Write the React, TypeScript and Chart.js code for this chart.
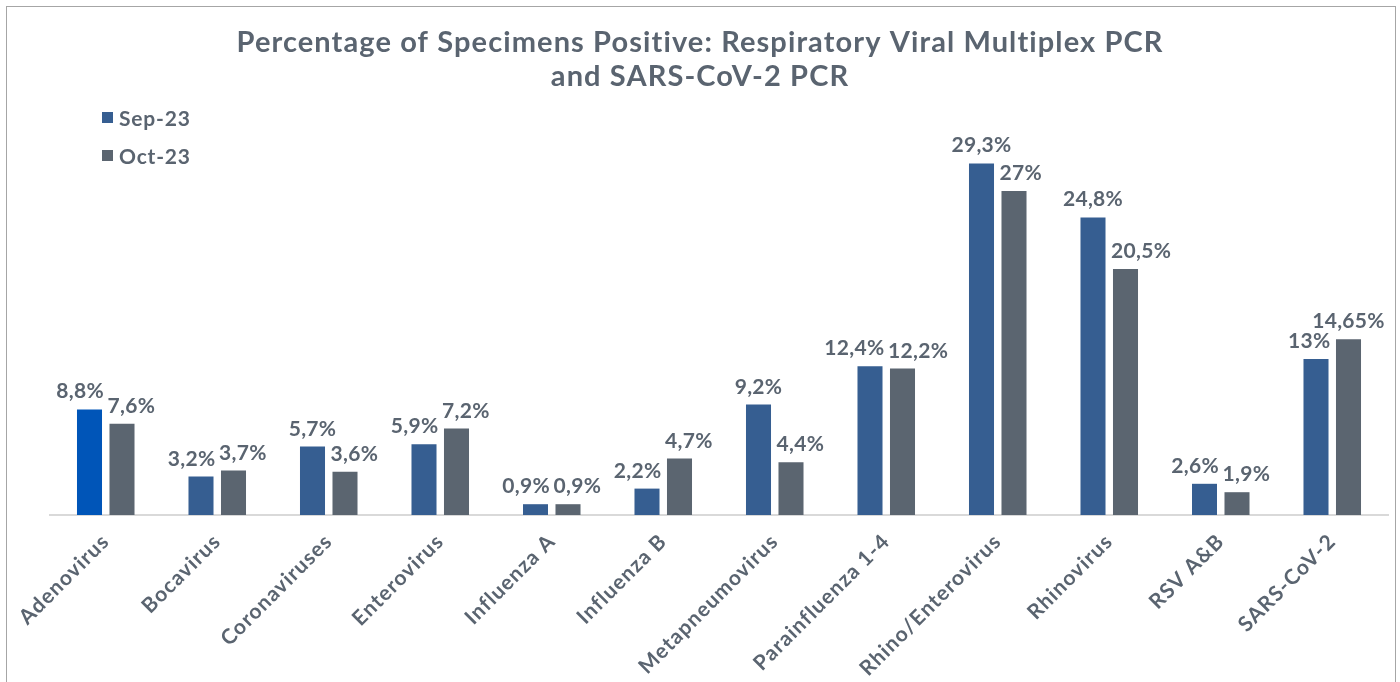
import React, { useEffect, useRef } from 'react';
import { Chart, registerables } from 'chart.js';

Chart.register(...registerables);

const categories = [
  'Adenovirus',
  'Bocavirus',
  'Coronaviruses',
  'Enterovirus',
  'Influenza A',
  'Influenza B',
  'Metapneumovirus',
  'Parainfluenza 1-4',
  'Rhino/Enterovirus',
  'Rhinovirus',
  'RSV A&B',
  'SARS-CoV-2',
];
const sep23 = [8.8, 3.2, 5.7, 5.9, 0.9, 2.2, 9.2, 12.4, 29.3, 24.8, 2.6, 13];
const oct23 = [7.6, 3.7, 3.6, 7.2, 0.9, 4.7, 4.4, 12.2, 27, 20.5, 1.9, 14.65];
const seriesNames = ['Sep-23', 'Oct-23'];
const titleLines = [
  'Percentage of Specimens Positive: Respiratory Viral Multiplex PCR',
  'and SARS-CoV-2 PCR',
];

// label placement style (as in the original Excel chart)
const sepLabelAlign = ['right', 'right', 'center', 'right', 'right', 'right', 'center', 'right', 'center', 'center', 'right', 'right'];
const octLabelAlign = ['left', 'left', 'left', 'left', 'left', 'left', 'left', 'left', 'left', 'left', 'left', 'center'];

const FONT = 'Lato, "DejaVu Sans", sans-serif';
const TEXT = '#5a6470';
const SEP_COLOR = '#365e91';
const SEP_FIRST = '#0055b8';
const OCT_COLOR = '#5b6570';

const fmt = (v: number) => String(v).replace('.', ',') + '%';

const spacing = {
  id: 'spacing',
  beforeDraw(chart: any) {
    (chart.ctx as any).letterSpacing = '1.1px';
  },
  afterDraw(chart: any) {
    (chart.ctx as any).letterSpacing = '0px';
  },
};

const overlay = {
  id: 'overlay',
  afterDraw(chart: any) {
    const ctx = chart.ctx as any;
    ctx.save();
    ctx.fillStyle = TEXT;
    ctx.textBaseline = 'alphabetic';
    // title
    ctx.letterSpacing = '1.1px';
    ctx.font = `bold 29px ${FONT}`;
    ctx.textAlign = 'center';
    ctx.fillText(titleLines[0], 700, 52);
    ctx.fillText(titleLines[1], 700, 86);
    // legend
    ctx.letterSpacing = '0.8px';
    ctx.font = `bold 21px ${FONT}`;
    ctx.textAlign = 'left';
    const legendColors = [SEP_COLOR, OCT_COLOR];
    seriesNames.forEach((name, i) => {
      const y = 112 + i * 38;
      ctx.fillStyle = legendColors[i];
      ctx.fillRect(102, y, 11, 11);
      ctx.fillStyle = TEXT;
      ctx.fillText(name, 119, y + 14);
    });
    // data labels
    ctx.letterSpacing = '0.3px';
    ctx.font = `bold 21px ${FONT}`;
    chart.data.datasets.forEach((ds: any, di: number) => {
      const meta = chart.getDatasetMeta(di);
      const aligns = di === 0 ? sepLabelAlign : octLabelAlign;
      meta.data.forEach((bar: any, i: number) => {
        const { x, y, width } = bar.getProps(['x', 'y', 'width'], true);
        const a = aligns[i];
        let tx = x;
        if (a === 'right') {
          ctx.textAlign = 'right';
          tx = x + width / 2 + 2;
        } else if (a === 'left') {
          ctx.textAlign = 'left';
          tx = x - width / 2 - 2;
        } else {
          ctx.textAlign = 'center';
        }
        ctx.fillText(fmt(ds.data[i]), tx, y - 11);
      });
    });
    ctx.restore();
  },
};

export default function App() {
  const ref = useRef<HTMLCanvasElement | null>(null);
  useEffect(() => {
    if (!ref.current) return;
    const chart = new Chart(ref.current, {
      type: 'bar',
      data: {
        labels: categories,
        datasets: [
          {
            label: seriesNames[0],
            data: sep23,
            backgroundColor: sep23.map((_, i) => (i === 0 ? SEP_FIRST : SEP_COLOR)),
            categoryPercentage: 0.583,
            barPercentage: 0.77,
          },
          {
            label: seriesNames[1],
            data: oct23,
            backgroundColor: OCT_COLOR,
            categoryPercentage: 0.583,
            barPercentage: 0.77,
          },
        ],
      },
      options: {
        animation: false,
        responsive: true,
        maintainAspectRatio: false,
        layout: { padding: { left: 50, right: 12, top: 95, bottom: 0 } },
        plugins: {
          legend: { display: false },
          title: { display: false },
          tooltip: { enabled: false },
        },
        scales: {
          x: {
            grid: { display: false },
            border: { display: true, color: '#d9d9d9', width: 2 },
            ticks: {
              color: TEXT,
              font: { family: FONT, size: 21, weight: 'bold' },
              maxRotation: 45,
              minRotation: 45,
              padding: 6,
            },
            afterFit: (scale: any) => {
              scale.height = 167;
            },
          },
          y: {
            display: false,
            min: 0,
            max: 35,
          },
        },
      },
      plugins: [spacing, overlay],
    } as any);
    return () => chart.destroy();
  }, []);

  return (
    <div style={{ position: 'fixed', left: 0, top: 0, width: 1400, height: 682, background: '#fff', overflow: 'hidden' }}>
      <div
        style={{
          position: 'absolute',
          left: 6,
          top: 6,
          width: 1390,
          height: 720,
          border: '1.5px solid #a6a6a6',
          boxSizing: 'border-box',
        }}
      />
      <div style={{ position: 'absolute', left: 0, top: 0, width: 1400, height: 682 }}>
        <canvas ref={ref} />
      </div>
    </div>
  );
}
